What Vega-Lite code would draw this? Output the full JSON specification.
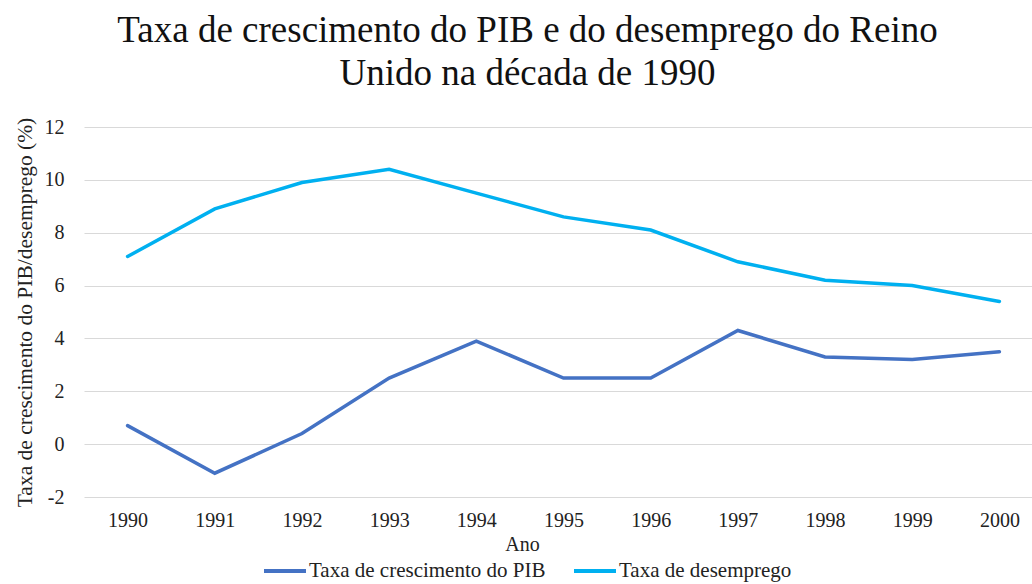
{
  "$schema": "https://vega.github.io/schema/vega-lite/v6.json",
  "autosize": {"type": "none"},
  "padding": {"left": 84, "top": 127, "right": 0, "bottom": 87},
  "width": 959,
  "height": 370,
  "background": "white",
  "title": {
    "text": ["Taxa de crescimento do PIB e do desemprego do Reino", "Unido na década de 1990"],
    "font": "Liberation Serif",
    "fontSize": 37,
    "fontWeight": "normal",
    "color": "#111111",
    "lineHeight": 43,
    "anchor": "middle",
    "align": "center",
    "dx": -36,
    "dy": -24,
    "offset": 0
  },
  "data": {
    "values": [
      {"Ano": "1990", "serie": "Taxa de crescimento do PIB", "valor": 0.7},
      {"Ano": "1991", "serie": "Taxa de crescimento do PIB", "valor": -1.1},
      {"Ano": "1992", "serie": "Taxa de crescimento do PIB", "valor": 0.4},
      {"Ano": "1993", "serie": "Taxa de crescimento do PIB", "valor": 2.5},
      {"Ano": "1994", "serie": "Taxa de crescimento do PIB", "valor": 3.9},
      {"Ano": "1995", "serie": "Taxa de crescimento do PIB", "valor": 2.5},
      {"Ano": "1996", "serie": "Taxa de crescimento do PIB", "valor": 2.5},
      {"Ano": "1997", "serie": "Taxa de crescimento do PIB", "valor": 4.3},
      {"Ano": "1998", "serie": "Taxa de crescimento do PIB", "valor": 3.3},
      {"Ano": "1999", "serie": "Taxa de crescimento do PIB", "valor": 3.2},
      {"Ano": "2000", "serie": "Taxa de crescimento do PIB", "valor": 3.5},
      {"Ano": "1990", "serie": "Taxa de desemprego", "valor": 7.1},
      {"Ano": "1991", "serie": "Taxa de desemprego", "valor": 8.9},
      {"Ano": "1992", "serie": "Taxa de desemprego", "valor": 9.9},
      {"Ano": "1993", "serie": "Taxa de desemprego", "valor": 10.4},
      {"Ano": "1994", "serie": "Taxa de desemprego", "valor": 9.5},
      {"Ano": "1995", "serie": "Taxa de desemprego", "valor": 8.6},
      {"Ano": "1996", "serie": "Taxa de desemprego", "valor": 8.1},
      {"Ano": "1997", "serie": "Taxa de desemprego", "valor": 6.9},
      {"Ano": "1998", "serie": "Taxa de desemprego", "valor": 6.2},
      {"Ano": "1999", "serie": "Taxa de desemprego", "valor": 6.0},
      {"Ano": "2000", "serie": "Taxa de desemprego", "valor": 5.4}
    ]
  },
  "mark": {"type": "line", "strokeWidth": 3.5, "strokeCap": "round", "strokeJoin": "miter"},
  "encoding": {
    "x": {
      "field": "Ano",
      "type": "ordinal",
      "scale": {"type": "point", "padding": 0.5},
      "axis": {
        "title": "Ano",
        "labelAngle": 0,
        "labelFontSize": 20,
        "labelPadding": 13,
        "titleFontSize": 20,
        "titlePadding": 4,
        "titleFontWeight": "normal",
        "titleX": 438,
        "domain": false,
        "ticks": false,
        "grid": false
      }
    },
    "y": {
      "field": "valor",
      "type": "quantitative",
      "scale": {"domain": [-2, 12], "nice": false},
      "axis": {
        "title": "Taxa de crescimento do PIB/desemprego (%)",
        "values": [-2, 0, 2, 4, 6, 8, 10, 12],
        "labelExpr": "datum.value < 0 ? '-' + abs(datum.value) : '' + datum.value",
        "labelFontSize": 20,
        "labelPadding": 20,
        "titleFontSize": 21.5,
        "titleFontWeight": "normal",
        "titlePadding": 8,
        "domain": false,
        "ticks": false,
        "grid": true,
        "gridColor": "#D9D9D9",
        "gridWidth": 1.2
      }
    },
    "color": {
      "field": "serie",
      "type": "nominal",
      "scale": {
        "domain": ["Taxa de crescimento do PIB", "Taxa de desemprego"],
        "range": ["#4472C4", "#00B0F0"]
      },
      "legend": {
        "title": null,
        "orient": "none",
        "direction": "horizontal",
        "legendX": 178,
        "legendY": 421,
        "symbolType": "stroke",
        "symbolSize": 1764,
        "symbolStrokeWidth": 4,
        "labelFontSize": 21,
        "labelLimit": 400,
        "labelOffset": 1,
        "columnPadding": 20
      }
    }
  },
  "config": {
    "font": "Liberation Serif",
    "axis": {"labelColor": "#222222", "titleColor": "#222222", "labelFont": "Liberation Serif", "titleFont": "Liberation Serif"},
    "legend": {"labelColor": "#222222", "labelFont": "Liberation Serif"},
    "view": {"stroke": null}
  }
}
